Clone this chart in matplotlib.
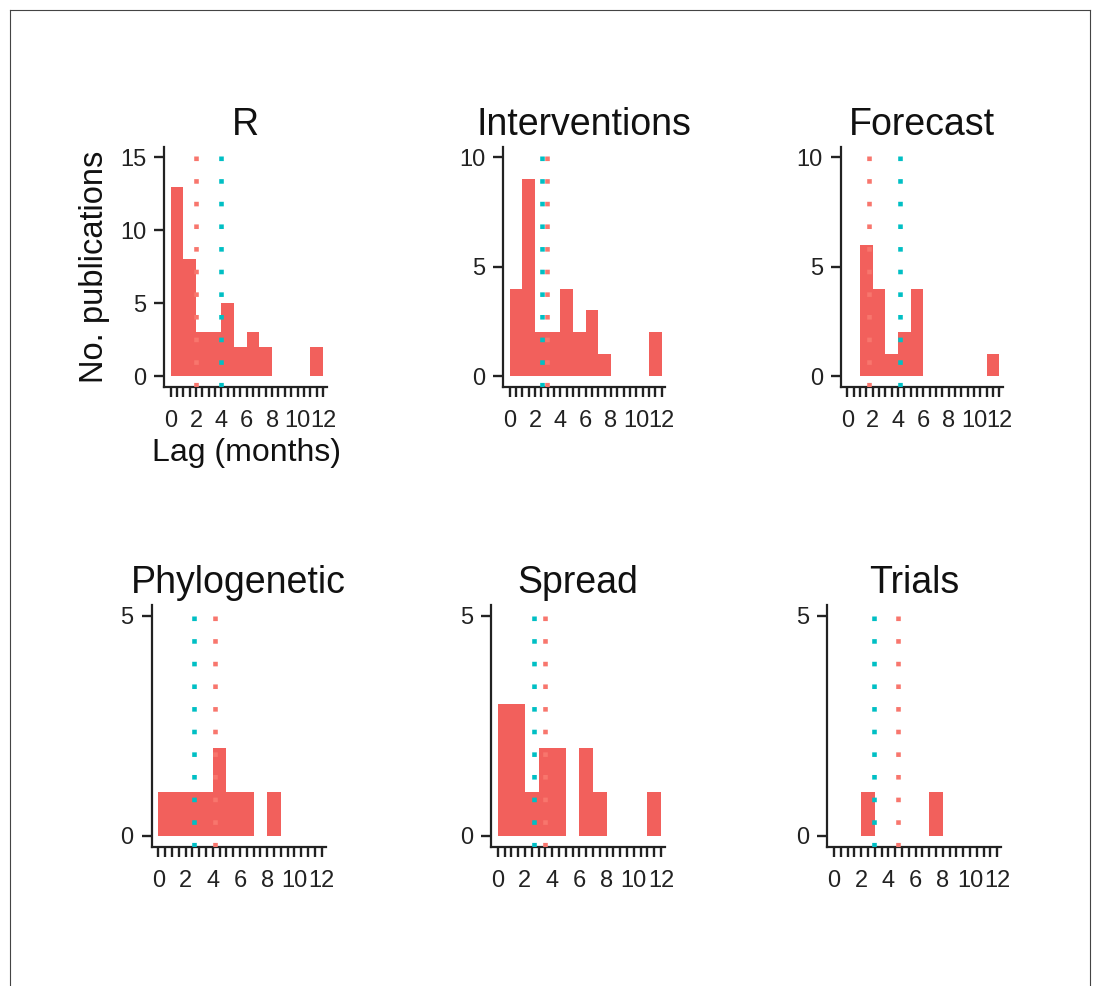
import numpy as np
import matplotlib
matplotlib.use("Agg")
import matplotlib.pyplot as plt
from matplotlib.lines import Line2D

plt.rcParams['font.family'] = ['Liberation Sans', 'DejaVu Sans']

# ---------------- data ----------------
bin_edges = list(range(0, 13))          # 1-month bins, 0..12
panels = ["R", "Interventions", "Forecast", "Phylogenetic", "Spread", "Trials"]
counts_R             = [13, 8, 3, 3, 5, 2, 3, 2, 0, 0, 0, 2]
counts_Interventions = [4, 9, 2, 2, 4, 2, 3, 1, 0, 0, 0, 2]
counts_Forecast      = [0, 6, 4, 1, 2, 4, 0, 0, 0, 0, 0, 1]
counts_Phylogenetic  = [1, 1, 1, 1, 2, 1, 1, 0, 1, 0, 0, 0]
counts_Spread        = [3, 3, 1, 2, 2, 0, 2, 1, 0, 0, 0, 1]
counts_Trials        = [0, 0, 1, 0, 0, 0, 0, 1, 0, 0, 0, 0]
red_line  = [2.0, 2.98, 1.74, 4.18, 3.45, 4.67]
teal_line = [4.0, 2.57, 4.2, 2.63, 2.7, 2.93]
y_max = [15, 10, 10, 5, 5, 5]
x_tick_labels = ["0", "2", "4", "6", "8", "10", "12"]

all_counts = [counts_R, counts_Interventions, counts_Forecast,
              counts_Phylogenetic, counts_Spread, counts_Trials]

# ---------------- style ----------------
W, H = 1094, 986
BAR = "#F2605C"
RED = "#F8766D"
TEAL = "#00BFC4"
AX = "#222222"

# panel boxes in pixels: left, right, top, bottom
boxes = [
    (164.3, 326.7, 146.5, 387.0),
    (503.3, 665.4, 146.5, 387.0),
    (841.0, 1003.0, 146.5, 387.0),
    (151.5, 325.6, 605.0, 847.0),
    (490.9, 665.0, 605.0, 847.0),
    (827.2, 1001.3, 605.0, 847.0),
]

fig = plt.figure(figsize=(W / 100, H / 100), dpi=100)
fig.patch.set_facecolor("white")

# outer frame
for (x0, y0, x1, y1) in [(10, 10, 10, H), (10, 10, 1090, 10), (1090, 10, 1090, H)]:
    fig.add_artist(Line2D([x0 / W, x1 / W], [1 - y0 / H, 1 - y1 / H],
                          transform=fig.transFigure, color="#444444", lw=0.8))

for i, name in enumerate(panels):
    l, r, t, b = boxes[i]
    ax = fig.add_axes([l / W, 1 - b / H, (r - l) / W, (b - t) / H])
    counts = all_counts[i]
    ax.bar(bin_edges[:-1], counts, width=1, align="edge", color=BAR,
           linewidth=0, zorder=2)
    for xv, col in ((teal_line[i], TEAL), (red_line[i], RED)):
        ax.axvline(xv, color=col, lw=3.3, linestyle=(0, (1.0, 3.94)),
                   dash_capstyle="butt", zorder=3)
    ym = y_max[i]
    ax.set_ylim(-0.05 * ym, 1.05 * ym)
    ax.set_xlim(-0.5, 12.3)
    ax.set_yticks(np.arange(0, ym + 1, 5))
    ax.set_xticks(np.arange(0, 12.01, 0.5))
    labs = []
    for v in np.arange(0, 12.01, 0.5):
        labs.append(x_tick_labels[int(v) // 2] if (v % 2 == 0) else "")
    ax.set_xticklabels(labs)
    for s in ("top", "right"):
        ax.spines[s].set_visible(False)
    for s in ("left", "bottom"):
        ax.spines[s].set_color(AX)
        ax.spines[s].set_linewidth(1.6)
    ax.tick_params(axis="both", colors=AX, width=1.7, length=7.5,
                   labelsize=17, labelcolor="#222222")
    ax.tick_params(axis="x", pad=9)
    ax.tick_params(axis="y", pad=5.5)
    ax.set_title(name, fontsize=27, pad=8.5, color="#111111")

fig.text(95 / W, 1 - 267 / H, "No. publications", rotation=90,
         ha="center", va="center", fontsize=23.5, color="#111111")
fig.text(247 / W, 1 - 453 / H, "Lag (months)", ha="center", va="center",
         fontsize=23, color="#111111")

fig.savefig("out.png", dpi=100, facecolor="white")
